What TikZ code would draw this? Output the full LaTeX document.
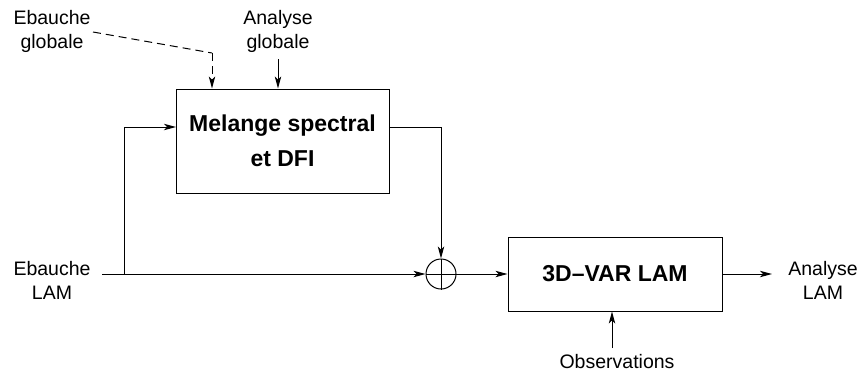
\documentclass[tikz,border=0pt]{standalone}
\usepackage{fontspec}
\setmainfont{Liberation Sans}
\usepackage{tikz}
\usetikzlibrary{arrows.meta}
\tikzset{>={Stealth[length=6pt,width=3.2pt,inset=1.5pt]}}
\tikzstyle{bloc}=[draw,line width=0.5pt,font=\fontsize{11.5pt}{17.5pt}\selectfont\bfseries,align=center,inner sep=0]
\tikzstyle{etiq}=[font=\fontsize{9.75pt}{12pt}\selectfont,align=center]
\tikzstyle{somme}=[draw,circle,line width=0.5pt,minimum size=15pt,inner sep=0]

\begin{document}
\begin{tikzpicture}[x=0.5pt,y=-0.5pt,line width=0.5pt]
\useasboundingbox (0,0) rectangle (862,376);

\node[etiq] (eg) at (52,31) {Ebauche\\globale};
\node[etiq] (ag) at (278,31) {Analyse\\globale};
\node[etiq] (el) at (52,280) {Ebauche\\LAM};
\node[etiq] (al) at (823,280) {Analyse\\LAM};
\node[etiq] (obs) at (617,362) {Observations};

\node[bloc,minimum width=106.5pt,minimum height=52pt] (melange) at (282.5,141) {Melange spectral\\et DFI};
\node[bloc,minimum width=107pt,minimum height=37pt] (var) at (615,274) {3D--VAR LAM};
\node[somme] (sum) at (441,274) {};
\draw (sum.north)--(sum.south) (sum.west)--(sum.east);

\coordinate (egout) at (93,32);
\coordinate (coin) at (212,53);
\coordinate (elout) at (102,274);
\coordinate (split) at (124,274);
\coordinate (fb) at (176,127);
\coordinate (out) at (772,274);
\coordinate (obsin) at (612,348);

\draw [dashed,dash pattern=on 4pt off 2.5pt] (egout)--(coin);
\draw [dashed,dash pattern=on 4pt off 2.5pt,->] (coin)--(coin |- melange.north);
\draw [->] (ag.south)--(ag.south |- melange.north);

\draw [->] (split) |- (fb);
\draw [->] (melange.east |- fb) -| (sum.north);
\draw [->] (elout)--(sum.west);
\draw [->] (sum.east)--(var.west);
\draw [->] (var.east)--(out);
\draw [->] (obsin)--(obsin |- var.south);
\end{tikzpicture}
\end{document}
